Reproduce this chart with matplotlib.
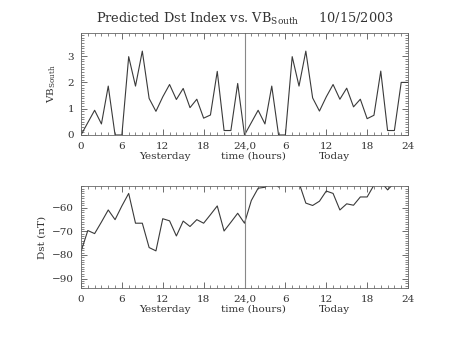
import matplotlib
matplotlib.use('Agg')
import matplotlib.pyplot as plt
from matplotlib.ticker import MultipleLocator

hours = list(range(49))

# VB south, hourly, yesterday (0-23) and today (24-48)
vb_south = [0, 0.47, 0.94, 0.42, 1.86, 0, 0, 2.98, 1.86, 3.19, 1.39, 0.9,
            1.45, 1.92, 1.35, 1.77, 1.04, 1.36, 0.64, 0.76, 2.42, 0.17, 0.17, 1.96,
            0, 0.47, 0.94, 0.42, 1.86, 0, 0, 2.98, 1.86, 3.19, 1.41, 0.91,
            1.45, 1.92, 1.36, 1.78, 1.07, 1.36, 0.62, 0.75, 2.43, 0.17, 0.17, 2.0,
            2.0]

# predicted Dst (nT)
dst = [-78.6, -69.7, -71.0, -66.1, -61.0, -65.1, -59.3, -54.0, -66.6, -66.6, -76.9, -78.3,
       -64.7, -65.6, -72.0, -65.7, -68.0, -65.1, -66.6, -63.0, -59.3, -69.9, -66.2, -62.4,
       -66.6, -57.0, -51.8, -51.4, -49.0, -51.3, -49.0, -48.5, -49.5, -58.1, -59.1, -57.3,
       -53.0, -54.0, -61.0, -58.4, -59.0, -55.5, -55.5, -50.5, -49.0, -52.5, -49.5, -49.0,
       -48.0]

xtick_pos = [0, 6, 12, 18, 24, 30, 36, 42, 48]
xtick_labels = ['0', '6', '12', '18', '24,0', '6', '12', '18', '24']

plt.rcParams['font.family'] = ['DejaVu Serif']
plt.rcParams['font.size'] = 7.5
plt.rcParams['text.color'] = '#333333'
plt.rcParams['axes.labelcolor'] = '#333333'

line_col = '#3a3a3a'


def style_axes(ax):
    ax.set_xlim(0, 48)
    ax.set_xticks(xtick_pos)
    ax.set_xticklabels(xtick_labels)
    ax.xaxis.set_minor_locator(MultipleLocator(1))
    ax.tick_params(which='both', direction='in', top=True, right=True,
                   color='#555555', labelcolor='#333333')
    ax.tick_params(which='major', length=4, width=0.6, labelsize=7.5, pad=5)
    ax.tick_params(which='minor', length=2, width=0.5)
    for s in ax.spines.values():
        s.set_linewidth(0.6)
        s.set_color('#666666')
    ax.axvline(24, color='#888888', lw=0.8)
    tr = ax.get_xaxis_transform()
    ax.text(12.3, -0.165, 'Yesterday', transform=tr, ha='center', va='top')
    ax.text(25.3, -0.165, 'time (hours)', transform=tr, ha='center', va='top')
    ax.text(37.2, -0.165, 'Today', transform=tr, ha='center', va='top')


fig = plt.figure(figsize=(4.53, 3.4), dpi=100)

ax1 = fig.add_axes([0.1788, 0.603, 0.7219, 0.30])
ax1.plot(hours, vb_south, color=line_col, lw=0.8)
ax1.set_ylim(0, 3.88)
ax1.set_yticks([0, 1, 2, 3])
ax1.yaxis.set_minor_locator(MultipleLocator(0.1))
style_axes(ax1)
ax1.set_ylabel('VB$_{\\mathregular{South}}$', fontsize=7.5, labelpad=7)
ax1.set_title('Predicted Dst Index vs. VB$_{\\mathregular{South}}$     10/15/2003',
              fontsize=9.3, pad=7, color='#333333')

ax2 = fig.add_axes([0.1788, 0.153, 0.7219, 0.299])
ax2.plot(hours, dst, color=line_col, lw=0.8)
ax2.set_ylim(-94, -51)
ax2.set_yticks([-90, -80, -70, -60])
ax2.yaxis.set_minor_locator(MultipleLocator(1))
style_axes(ax2)
ax2.set_ylabel('Dst (nT)', labelpad=4)

fig.savefig('out.png', dpi=100)
